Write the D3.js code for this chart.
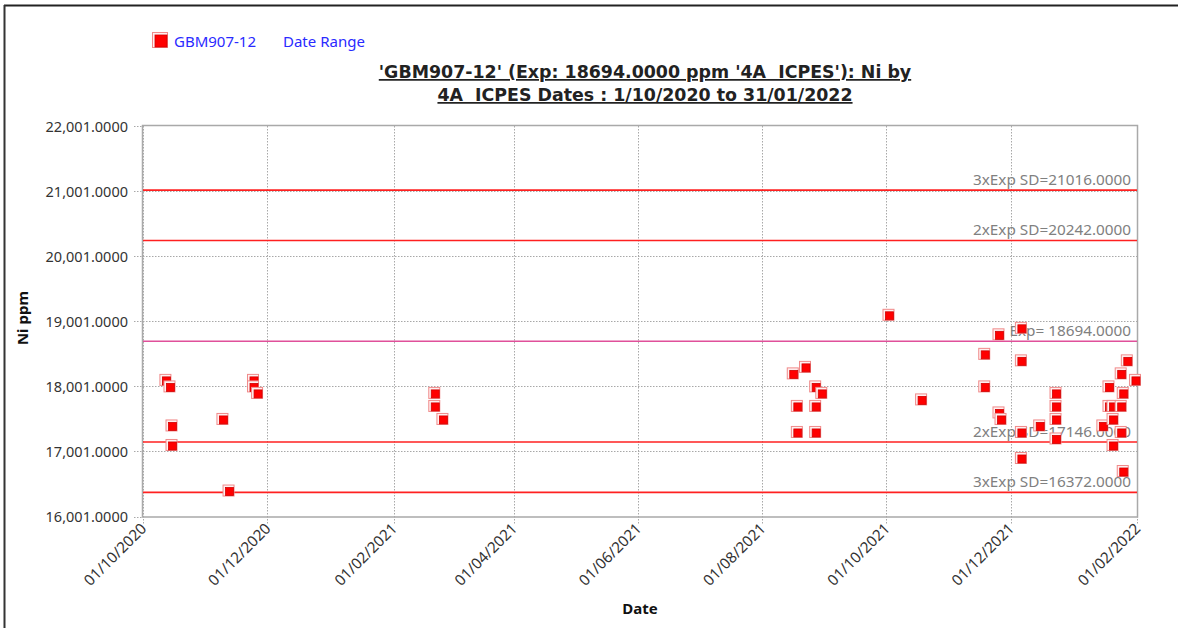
<!DOCTYPE html>
<html>
<head>
<meta charset="utf-8">
<script src="https://cdn.jsdelivr.net/npm/d3@7"></script>
<style>
  html, body { margin: 0; padding: 0; background: #fff; }
  svg { display: block; }
  text { font-family: "Noto Sans", "Liberation Sans", sans-serif; }
</style>
</head>
<body>
<svg id="chart" width="1178" height="628"></svg>
<script>
// ---- data ----
const sampleDates = [
  "12/10/2020","14/10/2020","15/10/2020","15/10/2020","09/11/2020","12/11/2020","24/11/2020","24/11/2020","26/11/2020",
  "21/02/2021","21/02/2021","25/02/2021",
  "16/08/2021","18/08/2021","18/08/2021","22/08/2021","27/08/2021","27/08/2021","27/08/2021","30/08/2021",
  "02/10/2021","18/10/2021",
  "18/11/2021","18/11/2021","25/11/2021","25/11/2021","26/11/2021",
  "06/12/2021","06/12/2021","06/12/2021","06/12/2021","15/12/2021",
  "23/12/2021","23/12/2021","23/12/2021","23/12/2021",
  "15/01/2022","18/01/2022","18/01/2022","20/01/2022","20/01/2022","20/01/2022",
  "24/01/2022","24/01/2022","24/01/2022","25/01/2022","25/01/2022","27/01/2022","31/01/2022"
];
const niValues = [
  18100,18000,17400,17100,17500,16400,18100,18000,17900,
  17900,17700,17500,
  18200,17700,17300,18300,18000,17700,17300,17900,
  19100,17800,
  18500,18000,18800,17600,17500,
  18900,18400,17300,16900,17400,
  17900,17700,17500,17200,
  17400,18000,17700,17500,17700,17100,
  18200,17700,17300,17900,16700,18400,18100
];
const refValues = [21016, 20242, 18694, 17146, 16372];
const refLabels = ["3xExp SD=21016.0000", "2xExp SD=20242.0000", "Exp= 18694.0000", "2xExp SD=17146.0000", "3xExp SD=16372.0000"];
const refKinds = ["sd", "sd", "exp", "sd", "sd"];
const yTickValues = [16001, 17001, 18001, 19001, 20001, 21001, 22001];
const xTickLabels = ["01/10/2020","01/12/2020","01/02/2021","01/04/2021","01/06/2021","01/08/2021","01/10/2021","01/12/2021","01/02/2022"];
const dateDomain = ["01/10/2020", "01/02/2022"];
const titleLines = ["'GBM907-12' (Exp: 18694.0000 ppm '4A  ICPES'): Ni by", "4A  ICPES Dates : 1/10/2020 to 31/01/2022"];
const legendItems = ["GBM907-12", "Date Range"];

// ---- layout ----
const parse = d3.timeParse("%d/%m/%Y");
const svg = d3.select("#chart");
const L = 143, R = 1137, T = 126, B = 516.5;

const x = d3.scaleTime().domain(dateDomain.map(parse)).range([L, R]);
const y = d3.scaleLinear().domain([16001, 22001]).range([B, T]);

// outer frame
svg.append("line").attr("x1", 4).attr("x2", 1178).attr("y1", 5.5).attr("y2", 5.5).attr("stroke", "#222").attr("stroke-width", 2);
svg.append("line").attr("x1", 4.5).attr("x2", 4.5).attr("y1", 5).attr("y2", 628).attr("stroke", "#333").attr("stroke-width", 2);

// grid
const grid = svg.append("g");
grid.selectAll(".gy").data(yTickValues.slice(1, -1)).join("line")
  .attr("x1", L - 9).attr("x2", R).attr("y1", d => Math.round(y(d)) + 0.5).attr("y2", d => Math.round(y(d)) + 0.5)
  .attr("stroke", "#a8a8a8").attr("stroke-dasharray", "1.5,1.5").attr("stroke-width", 1);
grid.selectAll(".gx").data(xTickLabels.map(parse)).join("line")
  .attr("x1", d => Math.round(x(d)) + 0.5).attr("x2", d => Math.round(x(d)) + 0.5).attr("y1", T).attr("y2", B + 8)
  .attr("stroke", "#a8a8a8").attr("stroke-dasharray", "1.5,1.5").attr("stroke-width", 1);
grid.selectAll(".gyt").data([yTickValues[0], yTickValues[yTickValues.length - 1]]).join("line")
  .attr("x1", L - 9).attr("x2", L).attr("y1", d => Math.round(y(d)) + 0.5).attr("y2", d => Math.round(y(d)) + 0.5)
  .attr("stroke", "#a8a8a8").attr("stroke-dasharray", "1.5,1.5");

// plot border
svg.append("rect").attr("x", L - 0.5).attr("y", T - 0.5).attr("width", R - L + 1).attr("height", B - T + 1)
  .attr("fill", "none").attr("stroke", "#a9a9a9").attr("stroke-width", 1.5);

// reference lines
svg.selectAll(".ref").data(refValues).join("line")
  .attr("x1", L).attr("x2", R).attr("y1", d => y(d)).attr("y2", d => y(d))
  .attr("stroke", (d, i) => refKinds[i] === "exp" ? "#e0509a" : "#ff2020").attr("stroke-width", 1.6);

// y axis
const yAxis = d3.axisLeft(y).tickValues(yTickValues).tickSize(0).tickPadding(0)
  .tickFormat(d => d3.format(",.4f")(d));
const gy = svg.append("g").attr("transform", `translate(${L - 15},0)`).call(yAxis);
gy.select(".domain").remove();
gy.selectAll("text").attr("font-size", 14.5).attr("fill", "#333").attr("dy", "0.36em")
  .style("font-family", "'Noto Sans', sans-serif");

// x axis
const xAxis = d3.axisBottom(x).tickValues(xTickLabels.map(parse)).tickSize(0).tickPadding(0)
  .tickFormat(d3.timeFormat("%d/%m/%Y"));
const gx = svg.append("g").attr("transform", `translate(0,${B})`).call(xAxis);
gx.select(".domain").remove();
gx.selectAll("text").attr("font-size", 15.2).attr("fill", "#333")
  .attr("text-anchor", "end").attr("dy", 0).attr("y", 0)
  .style("font-family", "'Noto Sans', sans-serif")
  .attr("transform", "translate(4,13) rotate(-45)");

// reference labels
svg.selectAll(".refLabel").data(refValues).join("text")
  .attr("x", R - 6).attr("y", d => y(d) - 5)
  .attr("text-anchor", "end").attr("font-size", 15.3).attr("fill", "#808080")
  .text((d, i) => refLabels[i]);

// markers
function marker(g, s) {
  g.append("rect").attr("x", -s / 2).attr("y", -s / 2).attr("width", s).attr("height", s).attr("fill", "#f08a8a");
  g.append("rect").attr("x", -s / 2 + 1).attr("y", -s / 2 + 1).attr("width", s - 2).attr("height", s - 2).attr("fill", "#fff0f0");
  g.append("rect").attr("x", -s / 2 + 3).attr("y", -s / 2 + 3).attr("width", s - 4).attr("height", s - 4).attr("fill", "#ff0000");
  g.append("rect").attr("x", -s / 2 + 3).attr("y", -s / 2 + 3).attr("width", s - 4).attr("height", s - 4)
    .attr("fill", "none").attr("stroke", "#d00000").attr("stroke-width", 0.8);
}
const pts = sampleDates.map((d, i) => ({ date: parse(d), value: niValues[i] }));
svg.append("g").selectAll("g").data(pts).join("g")
  .attr("transform", d => `translate(${x(d.date)},${y(d.value)})`)
  .each(function () { marker(d3.select(this), 12); });

// title
const title = svg.append("g");
titleLines.forEach((t, i) => {
  title.append("text").attr("x", 645).attr("y", 78 + i * 23).attr("text-anchor", "middle")
    .attr("font-size", 17.4).attr("font-weight", "bold").attr("fill", "#222")
    .style("font-family", "'DejaVu Sans', sans-serif")
    .style("text-decoration", "underline").style("white-space", "pre").attr("xml:space", "preserve")
    .text(t);
});

// legend
const lg = svg.append("g").attr("transform", "translate(160,40)");
marker(lg, 16);
svg.append("text").attr("x", 174).attr("y", 47).attr("font-size", 15).attr("fill", "#2a2aff").text(legendItems[0]);
svg.append("text").attr("x", 283).attr("y", 47).attr("font-size", 15).attr("fill", "#2a2aff").text(legendItems[1]);

// axis titles
svg.append("text").attr("x", 640).attr("y", 614).attr("text-anchor", "middle")
  .attr("font-size", 15).attr("font-weight", "bold").attr("fill", "#111").text("Date");
svg.append("text").attr("transform", "translate(28,318) rotate(-90)").attr("text-anchor", "middle")
  .attr("font-size", 15).attr("font-weight", "bold").attr("fill", "#111").text("Ni ppm");
</script>
</body>
</html>
